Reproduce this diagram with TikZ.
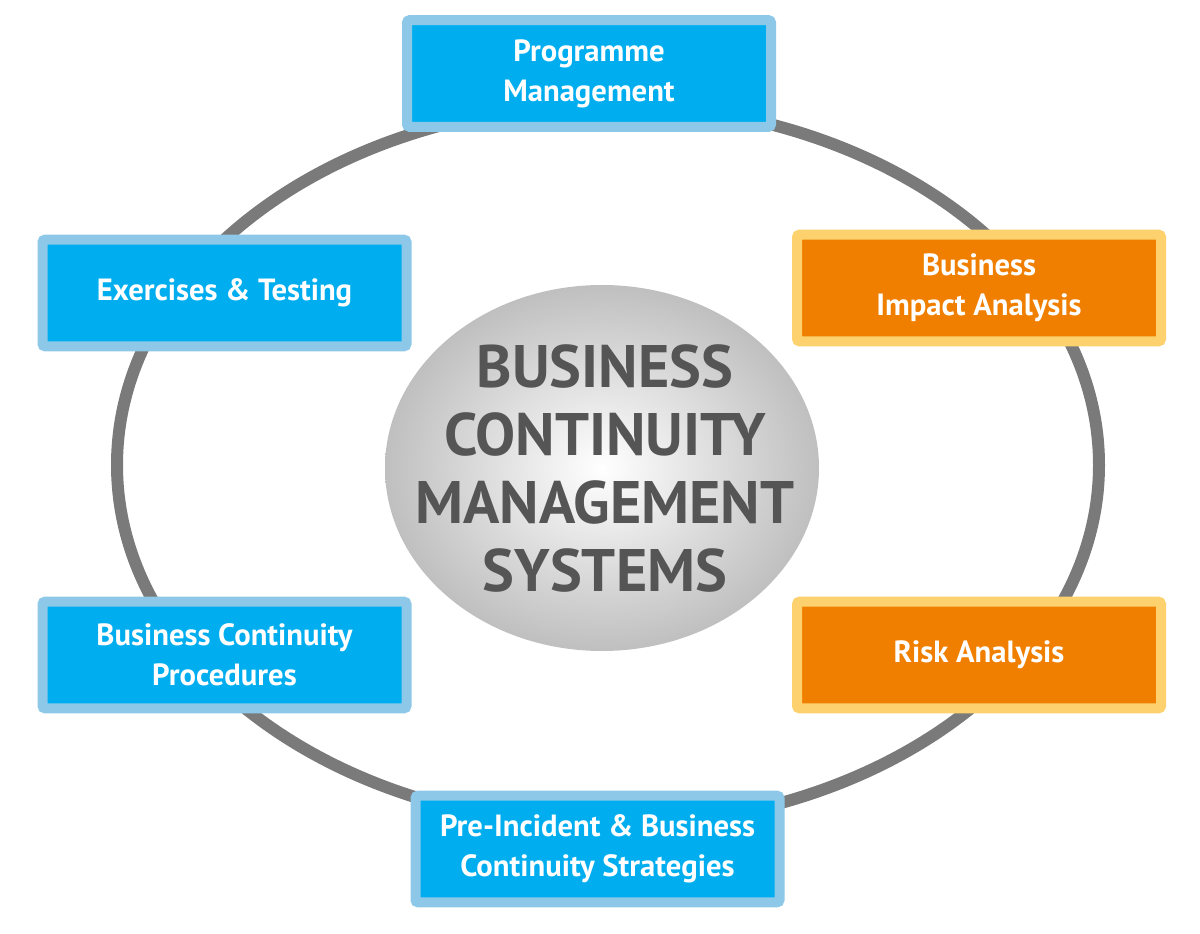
\documentclass[tikz,border=0pt]{standalone}
\usepackage{fontspec}
\setmainfont{PT Sans}
\usetikzlibrary{shadings}
\definecolor{bfill}{HTML}{00AEEF}
\definecolor{bline}{HTML}{8DC8E8}
\definecolor{ofill}{HTML}{F07F00}
\definecolor{oline}{HTML}{FDD26E}
\definecolor{ring}{HTML}{7A7A7A}
\definecolor{ctext}{HTML}{555555}
\begin{document}
\begin{tikzpicture}[x=0.75pt,y=-0.75pt,
  bbox/.style={draw=bline,fill=bfill,line width=7.5pt,rounded corners=2pt,minimum width=273pt,minimum height=80pt,text=white,font=\fontsize{23}{30}\selectfont\bfseries,align=center,inner sep=0pt},
  obox/.style={bbox,draw=oline,fill=ofill}]
\useasboundingbox (0,0) rectangle (1200,934);
\draw[ring,line width=9pt] (608,465) ellipse [x radius=491,y radius=361];
\shade[inner color=white,outer color=gray!50] (602,468) ellipse [x radius=217,y radius=183];
\node[text=ctext,font=\fontsize{45}{51}\selectfont\bfseries,align=center] (c) at (605,468) {BUSINESS\\CONTINUITY\\MANAGEMENT\\SYSTEMS};
\node[bbox] (pm) at (589,73.5) {Programme\\Management};
\node[bbox] (ex) at (224.5,293) {Exercises \& Testing};
\node[obox] (bia) at (979,288) {Business\\Impact Analysis};
\node[obox] (ra) at (979,655) {Risk Analysis};
\node[bbox] (bcp) at (224.5,655) {Business Continuity\\Procedures};
\node[bbox] (pi) at (597.5,849) {Pre-Incident \& Business\\Continuity Strategies};
\end{tikzpicture}
\end{document}
